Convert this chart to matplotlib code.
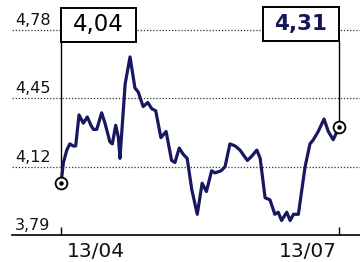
import matplotlib
matplotlib.use("Agg")
import matplotlib.pyplot as plt
from matplotlib.patches import Rectangle
from matplotlib.transforms import blended_transform_factory

# ---- data ----
days = [0, 0.8, 1.9, 2.9, 4.0, 4.8, 5.9, 7.3, 8.6, 9.8, 10.6, 11.7, 13.3, 14.4,
        16.0, 16.8, 17.9, 18.8, 19.3, 21.0, 22.6, 24.2, 25.3, 26.9, 28.4, 29.7,
        31.0, 32.7, 34.4, 36.2, 37.3, 38.7, 40.0, 41.3, 42.8, 44.6, 46.2, 47.6,
        49.3, 50.4, 52.4, 53.7, 55.3, 57.0, 58.6, 61.0, 62.4, 64.1, 65.2, 66.8,
        68.4, 70.0, 71.1, 72.2, 73.9, 75.0, 76.1, 77.7, 79.9, 81.5, 82.6, 84.2,
        86.1, 87.5, 89.1, 91.0]
values = [4.04, 4.14, 4.20, 4.23, 4.22, 4.22, 4.37, 4.33, 4.36, 4.32, 4.30, 4.30,
          4.38, 4.33, 4.24, 4.23, 4.32, 4.26, 4.16, 4.52, 4.65, 4.50, 4.48, 4.41,
          4.43, 4.40, 4.39, 4.26, 4.29, 4.15, 4.14, 4.21, 4.18, 4.16, 4.01, 3.89,
          4.04, 4.00, 4.10, 4.09, 4.10, 4.12, 4.23, 4.22, 4.20, 4.15, 4.17, 4.20,
          4.16, 3.97, 3.96, 3.89, 3.90, 3.86, 3.90, 3.86, 3.89, 3.89, 4.12, 4.23,
          4.25, 4.29, 4.35, 4.29, 4.25, 4.31]
y_ticks = [3.79, 4.12, 4.45, 4.78]
y_tick_labels = ["3,79", "4,12", "4,45", "4,78"]
x_tick_days = [0, 91]
x_tick_labels = ["13/04", "13/07"]
first_label = "4,04"
last_label = "4,31"

# ---- figure ----
W, H = 360, 262
fig = plt.figure(figsize=(W / 100, H / 100), dpi=100)
ax_left_px, ax_bottom_px = 12, 235
ax = fig.add_axes([ax_left_px / W, (H - ax_bottom_px) / H, 1 - ax_left_px / W, ax_bottom_px / H])

pxd = 278 / 91.0
pxv = 205 / 0.99
ax.set_xlim(-(61 - ax_left_px) / pxd, 91 + (360 - 339) / pxd)
ax.set_ylim(3.79, 3.79 + ax_bottom_px / pxv)


def vy(py):
    """pixel row -> value"""
    return 3.79 + (235 - py) / pxv


for s in ["top", "right", "left"]:
    ax.spines[s].set_visible(False)
ax.spines["bottom"].set_linewidth(1.2)
ax.spines["bottom"].set_color("black")
ax.set_yticks([])
ax.set_xticks(x_tick_days)
ax.set_xticklabels([])
ax.tick_params(axis="x", direction="in", length=6, width=1, color="black")

trans = blended_transform_factory(fig.transFigure, ax.transData)
for v, lab in zip(y_ticks, y_tick_labels):
    if v > y_ticks[0]:
        ax.axhline(v, xmin=-0.01, color="#333333", lw=0.9, ls=(0, (1, 1.5)), zorder=1)
    ax.text(15 / W, v + 2 / pxv, lab, transform=trans, ha="left", va="bottom",
            fontsize=11.5, color="#111111")

# x labels
ax.text(x_tick_days[0] + 6 / pxd, 3.79 - 7 / pxv, x_tick_labels[0], ha="left", va="top",
        fontsize=14.5, color="#111111")
ax.text(x_tick_days[1] - 2 / pxd, 3.79 - 7 / pxv, x_tick_labels[1], ha="right", va="top",
        fontsize=14.5, color="#111111")

# line
ax.plot(days, values, color="#18185e", lw=2.3, zorder=3, solid_joinstyle="round")

# connectors
ax.plot([days[0], days[0]], [values[0], vy(42)], color="black", lw=1.0, zorder=2)
ax.plot([days[-1], days[-1]], [values[-1], vy(41)], color="black", lw=1.0, zorder=2)

# boxes
ax.add_patch(Rectangle((days[0], vy(42)), 75 / pxd, 34 / pxv, fc="white", ec="black",
                       lw=1.4, zorder=4, clip_on=False))
ax.add_patch(Rectangle((days[-1] - 76 / pxd, vy(41)), 76 / pxd, 34 / pxv, fc="white",
                       ec="black", lw=1.4, zorder=4, clip_on=False))
ax.text(days[0] + 37.5 / pxd, vy(25), first_label, ha="center", va="center",
        fontsize=16.5, color="black", zorder=5)
ax.text(days[-1] - 38 / pxd, vy(24), last_label, ha="center", va="center",
        fontsize=15.5, fontweight="bold", color="#15155a", zorder=5)

# endpoint markers
for d, v in [(days[0], values[0]), (days[-1], values[-1])]:
    ax.plot([d], [v], marker="o", ms=8.5, mfc="white", mec="black", mew=1.3, zorder=6, clip_on=False)
    ax.plot([d], [v], marker="o", ms=2.2, mfc="black", mec="black", zorder=7, clip_on=False)

fig.savefig("out.png", dpi=100)
